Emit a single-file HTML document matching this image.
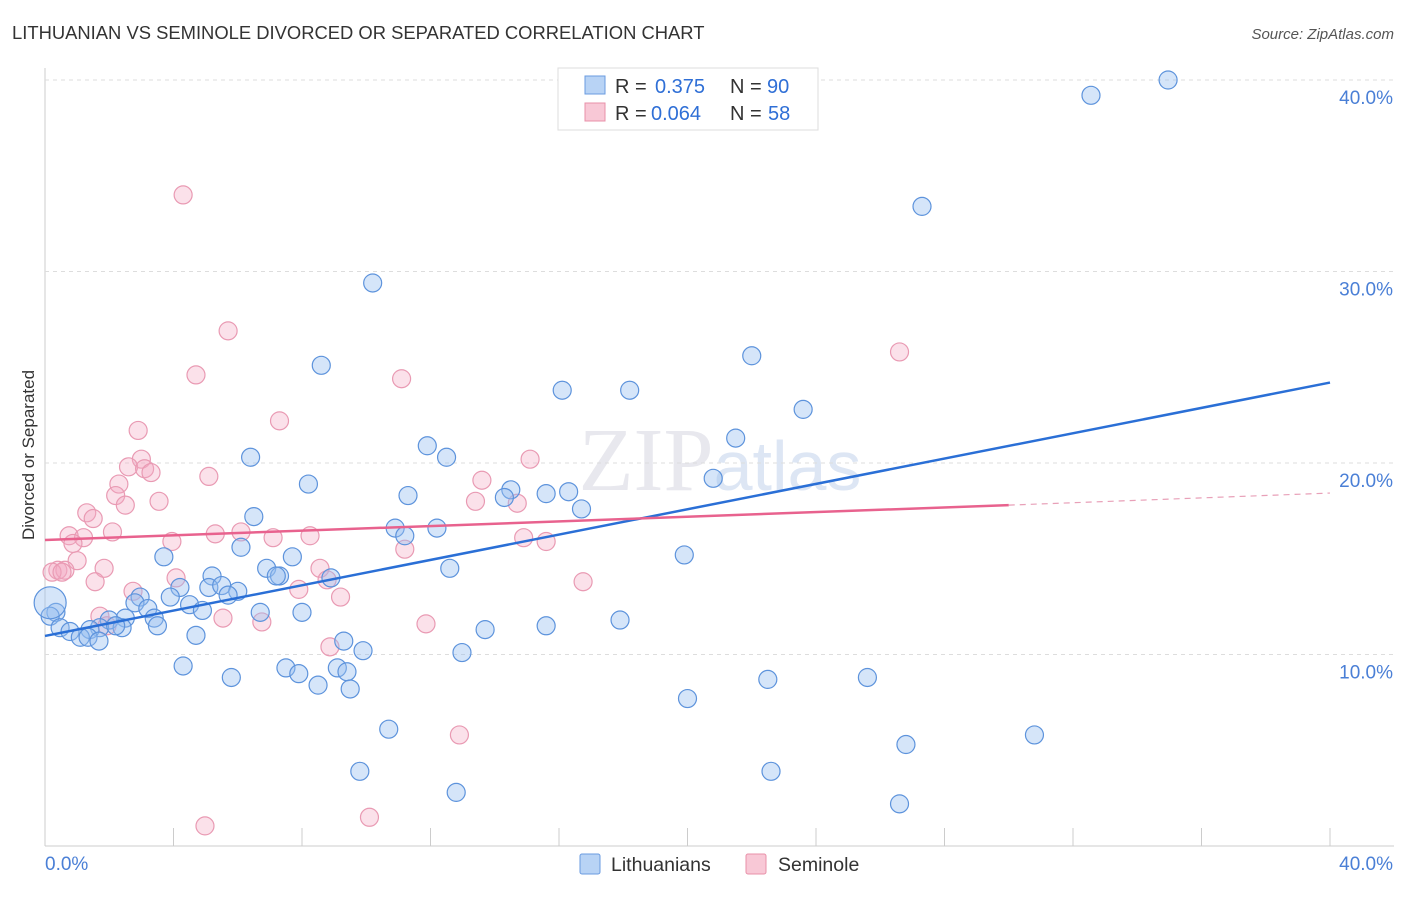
<!DOCTYPE html>
<html><head><meta charset="utf-8"><style>
body{margin:0;background:#fff;font-family:"Liberation Sans",sans-serif;}
</style></head><body>
<svg id="c" width="1406" height="892" xmlns="http://www.w3.org/2000/svg">
<text x="12" y="39" font-size="18.4" fill="#333">LITHUANIAN VS SEMINOLE DIVORCED OR SEPARATED CORRELATION CHART</text>
<text x="1394" y="39" font-size="15" fill="#555" font-style="italic" text-anchor="end">Source: ZipAtlas.com</text>
<text x="34" y="455" font-size="17" fill="#333" transform="rotate(-90 34 455)" text-anchor="middle">Divorced or Separated</text>
<text x="720" y="490" font-size="90" fill="#e8e8ee" font-family="Liberation Serif,serif" text-anchor="middle">ZIP<tspan fill="#dde6f4" font-family="Liberation Sans,sans-serif" font-size="70">atlas</tspan></text>
<g id="grid"></g><g id="pts"></g><g id="lines"></g>
<g>
<rect x="558" y="68" width="260" height="62" fill="#fff" stroke="#ddd"/>
<rect x="585" y="76" width="20" height="18" fill="#b8d3f5" stroke="#6a9be0"/>
<text x="615" y="93" font-size="20" fill="#333">R =</text><text x="655" y="93" font-size="20" fill="#2f6fd6">0.375</text>
<text x="730" y="93" font-size="20" fill="#333">N =</text><text x="767" y="93" font-size="20" fill="#2f6fd6">90</text>
<rect x="585" y="103" width="20" height="18" fill="#f8c8d6" stroke="#e890a8"/>
<text x="615" y="120" font-size="20" fill="#333">R =</text><text x="651" y="120" font-size="20" fill="#2f6fd6">0.064</text>
<text x="730" y="120" font-size="20" fill="#333">N =</text><text x="768" y="120" font-size="20" fill="#2f6fd6">58</text>
</g>
<g>
<rect x="580" y="854" width="20" height="20" fill="#b8d3f5" stroke="#6a9be0" rx="2"/>
<text x="611" y="871" font-size="19.5" fill="#333">Lithuanians</text>
<rect x="746" y="854" width="20" height="20" fill="#f8c8d6" stroke="#e890a8" rx="2"/>
<text x="778" y="871" font-size="19.5" fill="#333">Seminole</text>
</g>
</svg>
<script>
const xTicks=[0,40];
const yTicks=[10,20,30,40];
const blueX=[34.96,32.56,27.3,10.2,8.6,22.0,16.1,18.2,23.6,21.5,11.9,12.5,6.4,20.8,8.2,11.3,14.5,14.3,15.6,16.3,16.7,6.5,10.9,12.2,11.2,6.1,7.7,3.7,19.9,12.6,6.9,7.3,7.2,5.2,8.9,4.2,5.1,5.5,6.0,5.7,2.96,3.9,2.8,4.5,3.2,4.9,6.7,8.0,0.34,0.16,2.5,2.0,3.4,17.9,15.6,13.7,3.5,2.4,1.7,1.4,2.2,0.47,0.78,1.1,1.34,1.68,4.7,9.3,9.9,12.98,4.3,7.5,7.9,9.1,9.4,5.8,8.5,9.5,22.5,25.6,20.0,10.7,30.8,26.8,9.8,22.6,12.8,26.6,0.16];
const blueY=[40.0,39.2,33.4,29.4,25.1,25.6,23.8,23.8,22.8,21.3,20.9,20.3,20.3,19.2,18.9,18.3,18.6,18.2,18.4,18.5,17.6,17.2,16.6,16.6,16.2,15.6,15.1,15.1,15.2,14.5,14.5,14.1,14.1,14.1,14.0,13.5,13.5,13.6,13.3,13.1,13.0,13.0,12.7,12.6,12.4,12.3,12.2,12.2,12.2,12.0,11.9,11.8,11.9,11.8,11.5,11.3,11.5,11.4,11.4,11.3,11.5,11.4,11.2,10.9,10.9,10.7,11.0,10.7,10.2,10.1,9.4,9.3,9.0,9.3,9.1,8.8,8.4,8.2,8.7,8.8,7.7,6.1,5.8,5.3,3.9,3.9,2.8,2.2,12.7];
const blueR=[9,9,9,9,9,9,9,9,9,9,9,9,9,9,9,9,9,9,9,9,9,9,9,9,9,9,9,9,9,9,9,9,9,9,9,9,9,9,9,9,9,9,9,9,9,9,9,9,9,9,9,9,9,9,9,9,9,9,9,9,9,9,9,9,9,9,9,9,9,9,9,9,9,9,9,9,9,9,9,9,9,9,9,9,9,9,9,9,16];
const pinkX=[4.3,5.7,4.7,11.1,26.6,7.3,2.9,3.0,2.6,3.1,3.3,5.1,15.1,13.6,2.3,2.2,3.55,13.4,14.7,2.5,1.3,1.5,2.1,0.75,1.2,5.3,6.1,7.1,8.25,3.95,0.87,14.9,15.6,11.2,1.0,1.84,0.4,0.62,0.22,0.53,8.56,8.78,1.56,4.08,2.74,7.9,9.2,1.71,5.54,6.75,11.86,1.93,8.87,16.75,12.9,4.98,10.1];
const pinkY=[34.0,26.9,24.6,24.4,25.8,22.2,21.7,20.2,19.8,19.7,19.5,19.3,20.2,19.1,18.9,18.3,18.0,18.0,17.9,17.8,17.4,17.1,16.4,16.2,16.1,16.3,16.4,16.1,16.2,15.9,15.8,16.1,15.9,15.5,14.9,14.5,14.4,14.4,14.3,14.3,14.5,13.9,13.8,14.0,13.3,13.4,13.0,12.0,11.9,11.7,11.6,11.5,10.4,13.8,5.8,1.05,1.5];
const blueLine=[[0,10.97],[40,24.2]];
const pinkLine=[[0,15.98],[30.0,17.8],[40,18.43]];
const sx=v=>45+v/40*1285, sy=v=>846-v*19.15;
const NS="http://www.w3.org/2000/svg";
function mk(t,a,p){const e=document.createElementNS(NS,t);for(const k in a)e.setAttribute(k,a[k]);p.appendChild(e);return e;}
const g=document.getElementById('grid');
const ax=mk('line',{x1:45,y1:68,x2:45,y2:846,stroke:'#ccc'},g);


const bx=mk('line',{x1:45,y1:846,x2:1394,y2:846,stroke:'#ccc'},g);


for(let i=1;i<=10;i++){const t=mk('line',{x1:45+i*128.5,y1:828,x2:45+i*128.5,y2:846,stroke:'#ccc'},g);

}
yTicks.forEach(v=>{const l=mk('line',{x1:45,y1:sy(v),x2:1394,y2:sy(v),stroke:'#ddd','stroke-dasharray':'4 4'},g);


const t=mk('text',{x:1393,y:sy(v)+24,'font-size':19,fill:'#4a7fd6','text-anchor':'end'},g);t.textContent=v.toFixed(1)+'%';

});
xTicks.forEach((v,i)=>{const t=mk('text',{x:i?1393:45,y:870,'font-size':19,fill:'#4a7fd6','text-anchor':i?'end':'start'},g);t.textContent=v.toFixed(1)+'%';

});
const P=document.getElementById('pts');
pinkX.forEach((x,i)=>{const c=mk('circle',{cx:sx(x),cy:sy(pinkY[i]),r:9,fill:'rgba(244,170,195,0.35)',stroke:'#e99ab3','stroke-width':1.2},P);

});
blueX.forEach((x,i)=>{const c=mk('circle',{cx:sx(x),cy:sy(blueY[i]),r:blueR[i],fill:'rgba(150,190,240,0.4)',stroke:'#5d93dc','stroke-width':1.2},P);

});
const L=document.getElementById('lines');
const bl=mk('line',{x1:sx(blueLine[0][0]),y1:sy(blueLine[0][1]),x2:sx(blueLine[1][0]),y2:sy(blueLine[1][1]),stroke:'#2a6fd6','stroke-width':2.5},L);


const pl=mk('line',{x1:sx(pinkLine[0][0]),y1:sy(pinkLine[0][1]),x2:sx(pinkLine[1][0]),y2:sy(pinkLine[1][1]),stroke:'#e8628e','stroke-width':2.5},L);


const pd=mk('line',{x1:sx(pinkLine[1][0]),y1:sy(pinkLine[1][1]),x2:sx(pinkLine[2][0]),y2:sy(pinkLine[2][1]),stroke:'#e8a0b8','stroke-width':1.2,'stroke-dasharray':'6 5'},L);


</script>
</body></html>
